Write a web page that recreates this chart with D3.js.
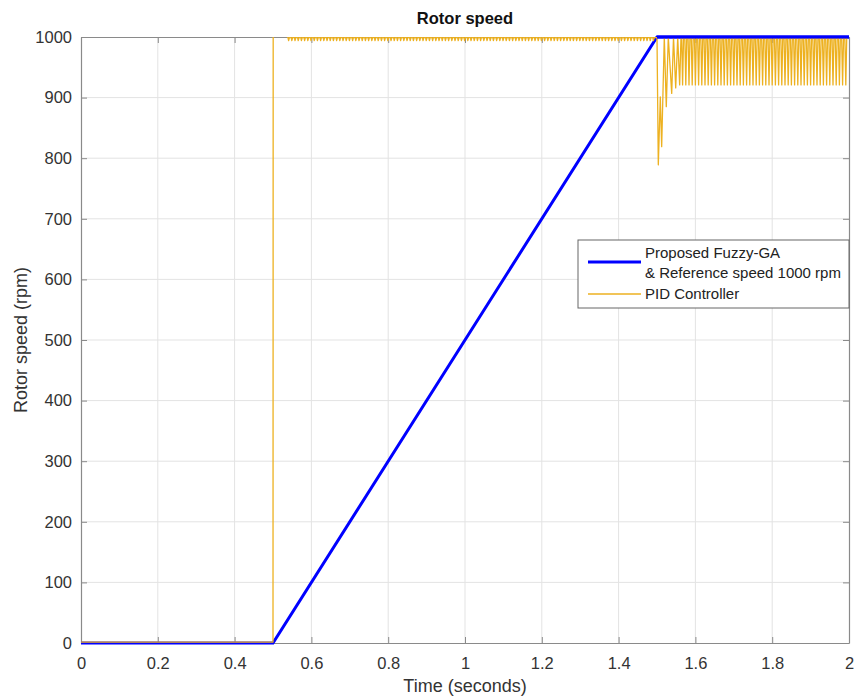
<!DOCTYPE html>
<html>
<head>
<meta charset="utf-8">
<script src="https://cdn.jsdelivr.net/npm/d3@7"></script>
<style>
  body { margin: 0; background: #fff; }
  svg text { font-family: "Liberation Sans", Arial, sans-serif; }
</style>
</head>
<body>
<div id="chart"></div>
<script>
// Fuzzy-GA / reference speed (blue)
const fuzzyTime = [0, 0.5, 1.5, 2.0];
const fuzzySpeed = [0, 0, 1000, 1000];

// PID controller start-up (orange)
const pidStartTime = [0, 0.5, 0.5005, 0.51, 0.53, 0.539];
const pidStartSpeed = [1.5, 1.5, 1045, 1030, 1008, 999];

// small ripple between 0.539 s and 1.5 s: trough per cycle
const ripplePeriod = 1 / 120;
const rippleA = [
  994, 994, 994, 994, 994, 994, 994, 994, 994, 994, 994, 994, 994, 994, 994, 994, 994, 994, 994, 994,
  994, 994, 994, 994, 994, 994, 994, 994, 994, 994, 994, 994, 994, 994, 994, 994, 994, 994, 994, 994,
  994, 994, 994, 994, 994, 994, 994, 994, 994, 994, 994, 994, 994, 994, 994, 994, 994, 994, 994, 994,
  994, 994, 994, 994, 994, 994, 994, 994, 994, 994, 994, 994, 994, 994, 994, 994, 994, 994, 994, 994,
  994, 994, 994, 994, 994, 994, 994, 994, 994, 994, 994, 994, 994, 994, 994, 994, 994, 994, 994, 994,
  994, 994, 994, 994, 994, 994, 994, 994, 994, 994, 994, 994, 994, 994, 994
];

// load step transient after 1.5 s
const pidStepTime = [1.5, 1.5034, 1.5086, 1.5122, 1.519, 1.5242, 1.5294, 1.5383, 1.543, 1.5487, 1.554, 1.559, 1.5625];
const pidStepSpeed = [999, 789, 901, 819, 1000, 885, 1000, 907, 1000, 916, 1000, 921, 1000];

// steady ripple after the transient: trough per cycle
const rippleB = [
  921, 921, 921, 921, 921, 921, 921, 921, 921, 921, 921, 921, 921, 921, 921, 921, 921, 921, 921, 921,
  921, 921, 921, 921, 921, 921, 921, 921, 921, 921, 921, 921, 921, 921, 921, 921, 921, 921, 921, 921,
  921, 921, 921, 921, 921, 921, 921, 921, 921, 921, 921, 921
];

const xTicks = [0, 0.2, 0.4, 0.6, 0.8, 1, 1.2, 1.4, 1.6, 1.8, 2];
const yTicks = [0, 100, 200, 300, 400, 500, 600, 700, 800, 900, 1000];

const legendLabels = [["Proposed Fuzzy-GA", "& Reference speed 1000 rpm"], ["PID Controller"]];

const width = 855, height = 697;
const margin = { left: 81, right: 6, top: 37, bottom: 54 };
const plotW = width - margin.left - margin.right;
const plotH = height - margin.top - margin.bottom;

const svg = d3.select("#chart").append("svg")
  .attr("width", width)
  .attr("height", height);

const x = d3.scaleLinear().domain([0, 2]).range([margin.left, margin.left + plotW]);
const y = d3.scaleLinear().domain([0, 1000]).range([margin.top + plotH, margin.top]);

// build PID series
function rippleSegment(t0, troughs, top, down, up) {
  const pts = [];
  troughs.forEach((v, i) => {
    const t = t0 + i * ripplePeriod;
    pts.push([t, top]);
    pts.push([t + ripplePeriod * down, v]);
    pts.push([t + ripplePeriod * up, top]);
  });
  return pts;
}
let pid = pidStartTime.map((t, i) => [t, pidStartSpeed[i]]);
pid = pid.concat(rippleSegment(0.539, rippleA, 999, 0.2, 0.45));
pid = pid.concat(pidStepTime.map((t, i) => [t, pidStepSpeed[i]]));
pid = pid.concat(rippleSegment(1.5625 + ripplePeriod * 0.2, rippleB, 1000, 0.3, 0.6));
pid.push([2, 1000]);

const fuzzy = fuzzyTime.map((t, i) => [t, fuzzySpeed[i]]);

const defs = svg.append("defs");
defs.append("clipPath").attr("id", "clipExact")
  .append("rect").attr("x", margin.left).attr("y", margin.top).attr("width", plotW).attr("height", plotH);
defs.append("clipPath").attr("id", "clipLoose")
  .append("rect").attr("x", margin.left).attr("y", margin.top - 3).attr("width", plotW).attr("height", plotH + 6);

// grid
svg.append("g").selectAll("line").data(xTicks.slice(1, -1)).enter().append("line")
  .attr("x1", d => x(d)).attr("x2", d => x(d))
  .attr("y1", margin.top).attr("y2", margin.top + plotH)
  .attr("stroke", "#e3e3e3").attr("stroke-width", 1);
svg.append("g").selectAll("line").data(yTicks.slice(1, -1)).enter().append("line")
  .attr("y1", d => y(d)).attr("y2", d => y(d))
  .attr("x1", margin.left).attr("x2", margin.left + plotW)
  .attr("stroke", "#e3e3e3").attr("stroke-width", 1);

// axes with inward ticks on all sides
const axisColor = "#8a8a8a";
const tickLen = 6;
const fmt = d => d3.format("~g")(d);

const gx = svg.append("g").attr("transform", `translate(0,${margin.top + plotH})`)
  .call(d3.axisBottom(x).tickValues(xTicks).tickFormat(fmt).tickSizeInner(-tickLen).tickSizeOuter(0).tickPadding(14));
const gxTop = svg.append("g").attr("transform", `translate(0,${margin.top})`)
  .call(d3.axisTop(x).tickValues(xTicks).tickFormat("").tickSizeInner(-tickLen).tickSizeOuter(0));
const gy = svg.append("g").attr("transform", `translate(${margin.left},0)`)
  .call(d3.axisLeft(y).tickValues(yTicks).tickFormat(fmt).tickSizeInner(-tickLen).tickSizeOuter(0).tickPadding(9));
const gyRight = svg.append("g").attr("transform", `translate(${margin.left + plotW},0)`)
  .call(d3.axisRight(y).tickValues(yTicks).tickFormat("").tickSizeInner(-tickLen).tickSizeOuter(0));

[gx, gxTop, gy, gyRight].forEach(g => {
  g.select(".domain").attr("stroke", axisColor).attr("stroke-width", 1.2);
  g.selectAll(".tick line").attr("stroke", axisColor);
  g.selectAll(".tick text").attr("fill", "#333").attr("font-size", "16.5px")
    .attr("font-family", "'Liberation Sans', Arial, sans-serif");
});

// series
const line = d3.line().x(d => x(d[0])).y(d => y(d[1]));

svg.append("path").datum(fuzzy)
  .attr("d", line)
  .attr("clip-path", "url(#clipLoose)")
  .attr("fill", "none").attr("stroke", "#0000ff").attr("stroke-width", 3);

svg.append("path").datum(pid)
  .attr("d", line)
  .attr("clip-path", "url(#clipExact)")
  .attr("fill", "none").attr("stroke", "#edb120").attr("stroke-width", 1.3)
  .attr("stroke-linejoin", "round");

// blue on top at 1000 after 1.5 s
svg.append("path").datum(fuzzy.slice(2))
  .attr("d", line)
  .attr("clip-path", "url(#clipLoose)")
  .attr("fill", "none").attr("stroke", "#0000ff").attr("stroke-width", 3);

// title and labels
svg.append("text").attr("x", x(1)).attr("y", 24)
  .attr("text-anchor", "middle").attr("font-weight", "bold").attr("font-size", "16.5px").attr("fill", "#111")
  .text("Rotor speed");
svg.append("text").attr("x", x(1)).attr("y", 692)
  .attr("text-anchor", "middle").attr("font-size", "18px").attr("fill", "#333")
  .text("Time (seconds)");
svg.append("text").attr("transform", `translate(27,${y(500)}) rotate(-90)`)
  .attr("text-anchor", "middle").attr("font-size", "18px").attr("fill", "#333")
  .text("Rotor speed (rpm)");

// legend
const lg = svg.append("g");
lg.append("rect").attr("x", 578).attr("y", 240).attr("width", 271).attr("height", 68)
  .attr("fill", "#fff").attr("stroke", "#666").attr("stroke-width", 1);
lg.append("line").attr("x1", 588).attr("x2", 641).attr("y1", 262).attr("y2", 262)
  .attr("stroke", "#0000ff").attr("stroke-width", 3);
lg.append("line").attr("x1", 588).attr("x2", 641).attr("y1", 294).attr("y2", 294)
  .attr("stroke", "#edb120").attr("stroke-width", 1.3);
const lgText = lg.append("g").attr("font-size", "15px").attr("fill", "#222");
lgText.append("text").attr("x", 645).attr("y", 258).text(legendLabels[0][0]);
lgText.append("text").attr("x", 645).attr("y", 278).text(legendLabels[0][1]);
lgText.append("text").attr("x", 645).attr("y", 299).text(legendLabels[1][0]);
</script>
</body>
</html>
